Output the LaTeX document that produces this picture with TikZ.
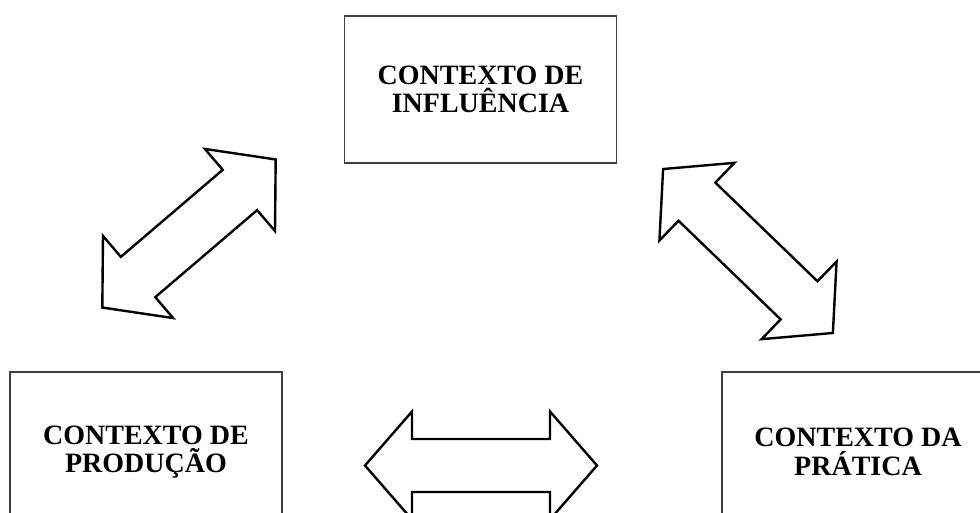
\documentclass[tikz,border=0pt]{standalone}
\usepackage{fontspec}
\setmainfont{Liberation Serif}

\begin{document}
\begin{tikzpicture}[x=1pt,y=-1pt,
	contexto/.style={draw=black!75,line width=1.7pt,minimum width=272pt,
		align=center,inner sep=0pt,font=\fontsize{28}{28.5}\selectfont\bfseries},
	seta/.style={draw=black,line width=2.4pt,fill=white,line join=miter}]
	\useasboundingbox (0,0) rectangle (980,513);
	\clip (0,0) rectangle (980,513);
	% os tres contextos
	\node[contexto,minimum height=147pt] (influencia) at (480.5,89.5)
		{CONTEXTO DE\\INFLUÊNCIA};
	\node[contexto,minimum height=160pt] (producao) at (146,452)
		{CONTEXTO DE\\PRODUÇÃO};
	\node[contexto,minimum height=160pt] (pratica) at (858,452)
		{CONTEXTO DA\\PRÁTICA};
	% setas duplas entre os contextos
	\foreach \cx/\cy/\a/\l in {
			189/233.5/40.5/228,
			748/251/-44/236,
			481/465.5/0/232}
		{
		\draw[seta,shift={(\cx,\cy)},rotate=\a]
			({-\l/2},0) -- ({-\l/2+47},54) -- ({-\l/2+47},26.5)
			-- ({\l/2-47},26.5) -- ({\l/2-47},54) -- ({\l/2},0)
			-- ({\l/2-47},-54) -- ({\l/2-47},-26.5)
			-- ({-\l/2+47},-26.5) -- ({-\l/2+47},-54) -- cycle;
	};
\end{tikzpicture}
\end{document}
